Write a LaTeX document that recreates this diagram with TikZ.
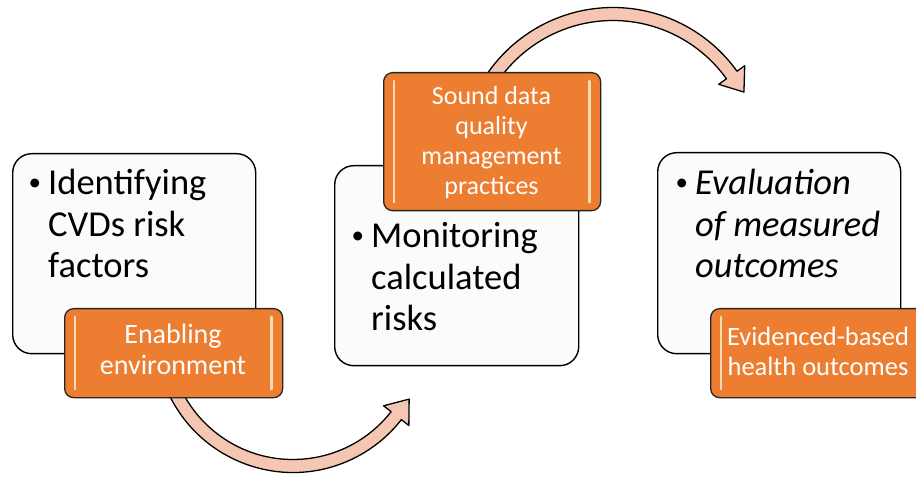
\documentclass[tikz,border=0pt]{standalone}
\usepackage{fontspec}
\setmainfont{Carlito}
\usetikzlibrary{calc}
\definecolor{orangeA}{HTML}{ED7D31}
\definecolor{salmon}{HTML}{F5C6B2}
\definecolor{stripc}{HTML}{FCDDB0}
\newcommand{\bandarrow}[8]{%
  \pgfmathsetmacro\ro{#3+#6}%
  \pgfmathsetmacro\ri{#3-#6}%
  \pgfmathsetmacro\ho{#3+#7}%
  \pgfmathsetmacro\hi{#3-#7}%
  \pgfmathsetmacro\sg{(#5>#4) ? 1 : -1}%
  \pgfmathsetmacro\tx{#1+#3*cos(#5)-\sg*#8*sin(#5)}%
  \pgfmathsetmacro\ty{#2+#3*sin(#5)+\sg*#8*cos(#5)}%
  \draw[band] ($(#1,#2)+(#4:\ro)$) arc[start angle=#4, end angle=#5, radius=\ro]
    -- ($(#1,#2)+(#5:\ho)$) -- (\tx,\ty) -- ($(#1,#2)+(#5:\hi)$)
    -- ($(#1,#2)+(#5:\ri)$) arc[start angle=#5, end angle=#4, radius=\ri] -- cycle;
}
\newcommand{\bul}{\makebox[20.5pt][l]{\hspace{1pt}\raisebox{4pt}{\fontsize{25}{25}\selectfont\upshape •}}}
\begin{document}
\begin{tikzpicture}[x=1pt,y=-1pt,
  wbox/.style={draw=black, line width=1.4pt, rounded corners=19pt, fill=white!98.5!black, inner sep=0pt},
  obox/.style={draw=black!85, line width=1.3pt, rounded corners=9pt, fill=orangeA, inner sep=0pt},
  band/.style={draw=black, line width=1.3pt, fill=salmon, line join=round},
  stripline/.style={draw=stripc, line width=2.5pt, line cap=round},
  btext/.style={inner sep=0pt, anchor=base west, font=\fontsize{36.5}{41.5}\selectfont},
  otext/.style={inner sep=0pt, anchor=base, font=\fontsize{26}{30}\selectfont, text=white},
]
\useasboundingbox (0,0) rectangle (916,478);
\clip (0,0) rectangle (916,478);

% curved block arrows (drawn first, partly hidden by the orange boxes)
\bandarrow{293}{335}{131}{156}{38}{6.5}{16}{21}
\bandarrow{613}{160}{146}{-150}{-35.6}{6.5}{16}{21}

% white boxes
\node[wbox, minimum width=243pt, minimum height=200pt, anchor=north west] (b1) at (12,153) {};
\node[wbox, minimum width=244pt, minimum height=200pt, anchor=north west] (b2) at (334,165) {};
\node[wbox, minimum width=243pt, minimum height=201pt, anchor=north west] (b3) at (657,152) {};

\node[btext] (t1) at (27.5,195) {\begin{tabular}[t]{@{}l@{}l@{}}\bul&Identifying\\ &CVDs risk\\ &factors\end{tabular}};
\node[btext] (t2) at (350.5,248) {\begin{tabular}[t]{@{}l@{}l@{}}\bul&Monitoring\\ &calculated\\ &risks\end{tabular}};
\node[btext] (t3) at (674.5,195) {\begin{tabular}[t]{@{}l@{}l@{}}\bul&\itshape Evaluation\\ &\itshape of measured\\ &\itshape outcomes\end{tabular}};

% orange boxes
\node[obox, minimum width=218pt, minimum height=89pt, anchor=north west] (o1) at (64,308) {};
\node[obox, minimum width=217pt, minimum height=138pt, anchor=north west] (o2) at (383,72) {};
\node[obox, minimum width=218pt, minimum height=89pt, anchor=north west] (o3) at (710,308) {};

\foreach \o in {o1,o2,o3}{
  \draw[stripline] ([xshift=11pt,yshift=-9pt]\o.north west) -- ([xshift=11pt,yshift=9pt]\o.south west);
  \draw[stripline] ([xshift=-12pt,yshift=-9pt]\o.north east) -- ([xshift=-12pt,yshift=9pt]\o.south east);
}

\node[otext, font=\fontsize{28}{31}\selectfont] (l1) at (173,344) {\begin{tabular}[t]{@{}c@{}}Enabling\\environment\end{tabular}};
\node[otext] (l2) at (491.5,105) {\begin{tabular}[t]{@{}c@{}}Sound data\\quality\\management\\practices\end{tabular}};
\node[otext, font=\fontsize{26.5}{30}\selectfont] (l3) at (818,345) {\begin{tabular}[t]{@{}c@{}}Evidenced-based\\health outcomes\end{tabular}};
\end{tikzpicture}
\end{document}
